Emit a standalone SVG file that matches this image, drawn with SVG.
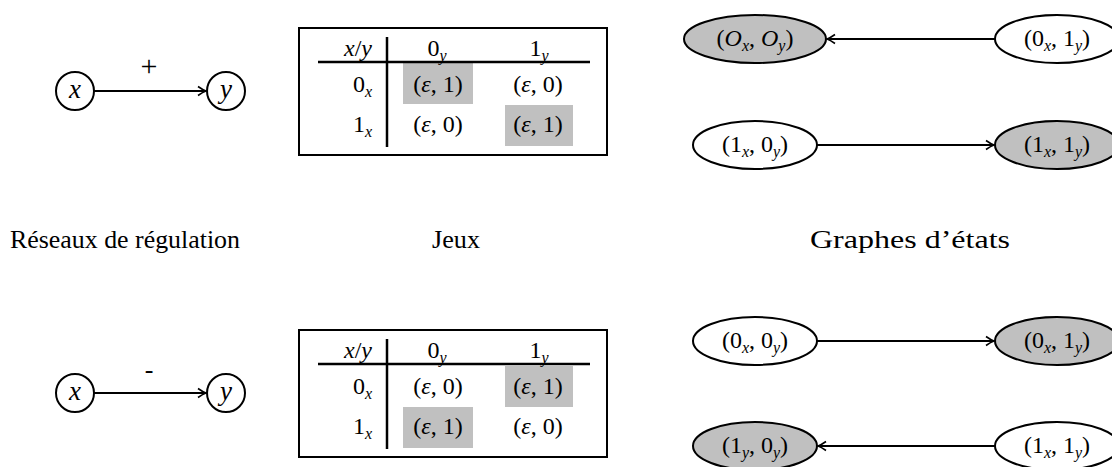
<svg xmlns="http://www.w3.org/2000/svg" width="1112" height="467" viewBox="0 0 1112 467">
<style>
text{font-family:"Liberation Serif","DejaVu Serif",serif;fill:#000;}
.m{font-size:24px;text-anchor:middle;}
.me{font-size:24px;text-anchor:end;}
.c{font-size:27px;text-anchor:middle;font-style:italic;}
.i{font-style:italic;}
.s{font-size:16px;font-style:italic;}
.cap{font-size:26px;}
.node{stroke:#000;stroke-width:2;fill:#fff;}
.gray{fill:#c0c0c0;}
.edge{stroke:#000;stroke-width:2;fill:none;}
.rule{stroke:#000;stroke-width:2.5;fill:none;}
.box{stroke:#000;stroke-width:2;fill:#fff;}
.cell{fill:#c0c0c0;stroke:none;}
</style>
<defs>
<marker id="arr" markerUnits="userSpaceOnUse" markerWidth="14" markerHeight="12" refX="0" refY="0" viewBox="-10 -6 12 12" orient="auto">
<path d="M-8,-4.5 Q-3,-1 0,0 Q-3,1 -8,4.5" fill="none" stroke="#000" stroke-width="1.6"/>
</marker>
</defs>

<!-- Regulation networks -->
<g id="reg-top-x"><circle class="node" cx="75" cy="91" r="19"/><text class="c" x="75" y="98">x</text></g>
<g id="reg-top-y"><circle class="node" cx="226" cy="91" r="19"/><text class="c" x="226" y="98">y</text></g>
<g id="reg-bot-x"><circle class="node" cx="75" cy="393" r="19"/><text class="c" x="75" y="400">x</text></g>
<g id="reg-bot-y"><circle class="node" cx="226" cy="393" r="19"/><text class="c" x="226" y="400">y</text></g>

<!-- Top table -->
<g id="table-top">
<rect class="box" x="299" y="28" width="308" height="127"/>
<rect class="cell" x="403" y="63" width="70" height="41"/>
<rect class="cell" x="505" y="105" width="68" height="41"/>
<line class="rule" x1="387" y1="37" x2="387" y2="147"/>
<line class="rule" x1="318" y1="62" x2="590" y2="62"/>
<text class="me" x="372" y="56"><tspan class="i">x</tspan>/<tspan class="i">y</tspan></text>
<text class="m" x="437" y="56">0<tspan class="s" dy="5">y</tspan></text>
<text class="m" x="539" y="56">1<tspan class="s" dy="5">y</tspan></text>
<text class="me" x="372" y="92">0<tspan class="s" dy="5">x</tspan></text>
<text class="me" x="372" y="132">1<tspan class="s" dy="5">x</tspan></text>
<text class="m" x="438" y="92">(<tspan class="i">ε</tspan>, 1)</text>
<text class="m" x="538" y="92">(<tspan class="i">ε</tspan>, 0)</text>
<text class="m" x="438" y="132">(<tspan class="i">ε</tspan>, 0)</text>
<text class="m" x="538" y="132">(<tspan class="i">ε</tspan>, 1)</text>
</g>

<!-- Bottom table -->
<g id="table-bot">
<rect class="box" x="299" y="330" width="308" height="127"/>
<rect class="cell" x="505" y="366" width="68" height="41"/>
<rect class="cell" x="403" y="407" width="70" height="41"/>
<line class="rule" x1="387" y1="339" x2="387" y2="449"/>
<line class="rule" x1="318" y1="364" x2="590" y2="364"/>
<text class="me" x="372" y="358"><tspan class="i">x</tspan>/<tspan class="i">y</tspan></text>
<text class="m" x="437" y="358">0<tspan class="s" dy="5">y</tspan></text>
<text class="m" x="539" y="358">1<tspan class="s" dy="5">y</tspan></text>
<text class="me" x="372" y="394">0<tspan class="s" dy="5">x</tspan></text>
<text class="me" x="372" y="434">1<tspan class="s" dy="5">x</tspan></text>
<text class="m" x="438" y="394">(<tspan class="i">ε</tspan>, 0)</text>
<text class="m" x="538" y="394">(<tspan class="i">ε</tspan>, 1)</text>
<text class="m" x="438" y="434">(<tspan class="i">ε</tspan>, 1)</text>
<text class="m" x="538" y="434">(<tspan class="i">ε</tspan>, 0)</text>
</g>

<!-- State graphs -->
<g id="s-OO"><ellipse class="node gray" cx="755" cy="39" rx="71" ry="24"/><text class="m" x="755" y="46">(<tspan class="i">O</tspan><tspan class="s" dy="5">x</tspan><tspan dy="-5">, </tspan><tspan class="i">O</tspan><tspan class="s" dy="5">y</tspan><tspan dy="-5">)</tspan></text></g>
<g id="s-01-top"><ellipse class="node" cx="1057" cy="39" rx="62" ry="24"/><text class="m" x="1057" y="46">(0<tspan class="s" dy="5">x</tspan><tspan dy="-5">, 1</tspan><tspan class="s" dy="5">y</tspan><tspan dy="-5">)</tspan></text></g>
<g id="s-10-top"><ellipse class="node" cx="755" cy="145" rx="62" ry="24"/><text class="m" x="755" y="152">(1<tspan class="s" dy="5">x</tspan><tspan dy="-5">, 0</tspan><tspan class="s" dy="5">y</tspan><tspan dy="-5">)</tspan></text></g>
<g id="s-11-top"><ellipse class="node gray" cx="1057" cy="145" rx="62" ry="24"/><text class="m" x="1057" y="152">(1<tspan class="s" dy="5">x</tspan><tspan dy="-5">, 1</tspan><tspan class="s" dy="5">y</tspan><tspan dy="-5">)</tspan></text></g>
<g id="s-00-bot"><ellipse class="node" cx="755" cy="341" rx="62" ry="24"/><text class="m" x="755" y="348">(0<tspan class="s" dy="5">x</tspan><tspan dy="-5">, 0</tspan><tspan class="s" dy="5">y</tspan><tspan dy="-5">)</tspan></text></g>
<g id="s-01-bot"><ellipse class="node gray" cx="1057" cy="341" rx="62" ry="24"/><text class="m" x="1057" y="348">(0<tspan class="s" dy="5">x</tspan><tspan dy="-5">, 1</tspan><tspan class="s" dy="5">y</tspan><tspan dy="-5">)</tspan></text></g>
<g id="s-10-bot"><ellipse class="node gray" cx="755" cy="446" rx="62" ry="24"/><text class="m" x="755" y="453">(1<tspan class="s" dy="5">y</tspan><tspan dy="-5">, 0</tspan><tspan class="s" dy="5">y</tspan><tspan dy="-5">)</tspan></text></g>
<g id="s-11-bot"><ellipse class="node" cx="1057" cy="446" rx="62" ry="24"/><text class="m" x="1057" y="453">(1<tspan class="s" dy="5">x</tspan><tspan dy="-5">, 1</tspan><tspan class="s" dy="5">y</tspan><tspan dy="-5">)</tspan></text></g>

<!-- Connectors -->
<g id="connectors">
<line class="edge" x1="94" y1="91" x2="206" y2="91" marker-end="url(#arr)"/>
<text class="m" x="149" y="76" style="font-size:30px">+</text>
<line class="edge" x1="94" y1="393" x2="206" y2="393" marker-end="url(#arr)"/>
<text class="m" x="149" y="378" style="font-size:26px">-</text>
<line class="edge" x1="995" y1="39" x2="827" y2="39" marker-end="url(#arr)"/>
<line class="edge" x1="817" y1="145" x2="994" y2="145" marker-end="url(#arr)"/>
<line class="edge" x1="817" y1="341" x2="994" y2="341" marker-end="url(#arr)"/>
<line class="edge" x1="995" y1="446" x2="818" y2="446" marker-end="url(#arr)"/>
</g>

<!-- Captions -->
<text class="cap" x="10" y="248" textLength="230" lengthAdjust="spacingAndGlyphs">Réseaux de régulation</text>
<text class="cap" x="432" y="248" textLength="48" lengthAdjust="spacingAndGlyphs">Jeux</text>
<text class="cap" x="810" y="248" textLength="200" lengthAdjust="spacingAndGlyphs">Graphes d’états</text>
</svg>
